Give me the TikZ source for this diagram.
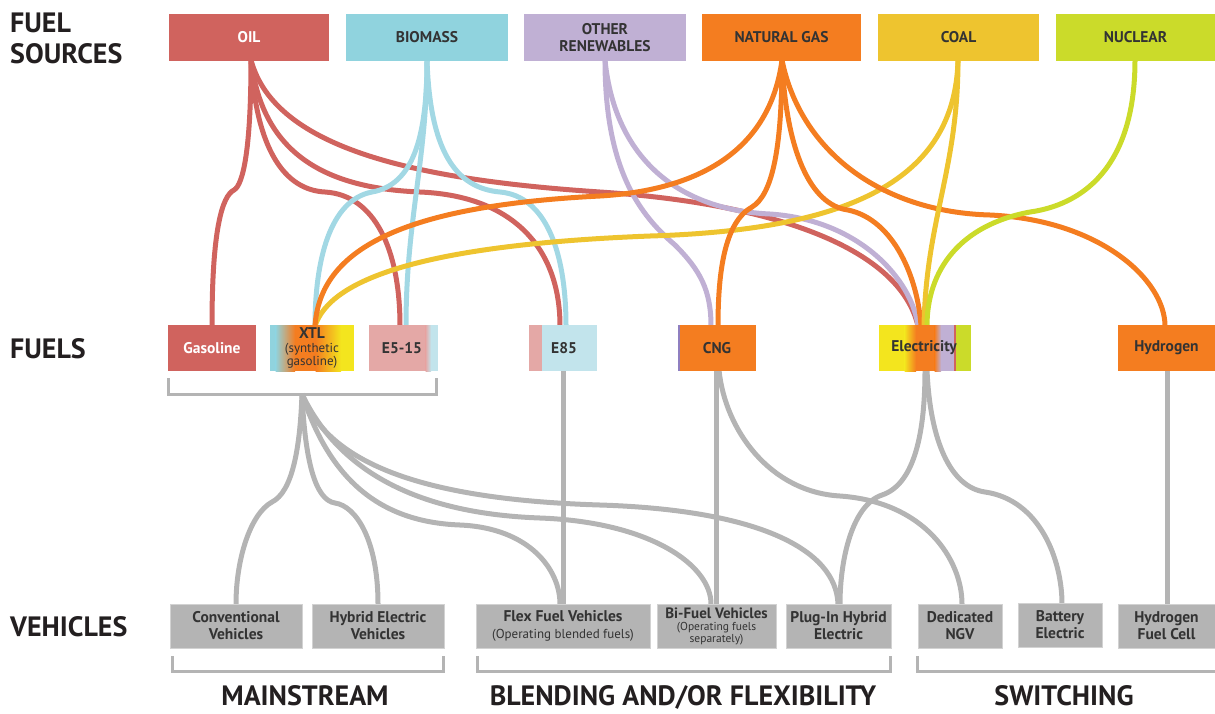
\documentclass[tikz,border=0pt]{standalone}
\usepackage{fontspec}
\setmainfont{PT Sans}
\definecolor{oilC}{HTML}{D0635E}
\definecolor{bioC}{HTML}{90D3DE}
\definecolor{bioL}{HTML}{A2D8E4}
\definecolor{renC}{HTML}{C0B0D4}
\definecolor{ngC}{HTML}{F47D20}
\definecolor{coalC}{HTML}{EEC42F}
\definecolor{nucC}{HTML}{CBDB2A}
\definecolor{grayC}{HTML}{B4B4B4}
\definecolor{txtC}{HTML}{333333}
\definecolor{labC}{HTML}{231F20}
\definecolor{pinkC}{HTML}{E4A8A6}
\definecolor{lcyanC}{HTML}{C2E4EC}
\definecolor{ylwC}{HTML}{F3E51E}
\definecolor{purC}{HTML}{8F7FC0}
\begin{document}
\begin{tikzpicture}[x=1pt,y=-1pt,
  srcbox/.style={minimum height=47pt, inner sep=0pt, align=center, text=txtC,
    font=\fontsize{15.5}{16.5}\selectfont\bfseries},
  fuelbox/.style={minimum height=46pt, inner sep=0pt, align=center, text=txtC,
    font=\fontsize{15.5}{15}\selectfont\bfseries},
  vehbox/.style={fill=grayC, draw=grayC!60, line width=0.6pt, minimum height=44pt, inner sep=0pt, align=center, text=txtC,
    font=\fontsize{15.5}{17}\selectfont\bfseries},
  leftlab/.style={anchor=west, inner sep=0pt, align=left, text=labC,
    font=\fontsize{28}{31}\selectfont\bfseries},
  grouplab/.style={anchor=base, inner sep=0pt, text=labC, font=\fontsize{28}{30}\selectfont\bfseries},
  flow/.style={line width=5pt},
  oilL/.style={flow, draw=oilC},
  bioLn/.style={flow, draw=bioL},
  renL/.style={flow, draw=renC},
  ngL/.style={flow, draw=ngC},
  coalL/.style={flow, draw=coalC},
  nucL/.style={flow, draw=nucC},
  grayL/.style={line width=5pt, draw=grayC},
  brk/.style={line width=3pt, draw=grayC}
]
\useasboundingbox (0,0) rectangle (1215,713);

% ---------- stem / anchor coordinates ----------
\coordinate (oilS) at (251,60);
\coordinate (bioS) at (427,60);
\coordinate (renS) at (605,60);
\coordinate (ngS) at (782,60);
\coordinate (coalS) at (958,60);
\coordinate (nucS) at (1135,60);
\coordinate (gasT) at (212,326);
\coordinate (xtlT) at (315,326);
\coordinate (e515a) at (400,326);
\coordinate (e515b) at (406,326);
\coordinate (e85a) at (560,326);
\coordinate (e85b) at (566,326);
\coordinate (cngA) at (711,326);
\coordinate (cngB) at (718,326);
\coordinate (elA) at (918,326);
\coordinate (elB) at (921,326);
\coordinate (elC) at (924,326);
\coordinate (elD) at (927,326);
\coordinate (hydT) at (1165,326);
\coordinate (brS) at (302,394);
\coordinate (e85D) at (563,370);
\coordinate (cngD) at (716,370);
\coordinate (cngD2) at (719,370);
\coordinate (elD1) at (925,370);
\coordinate (elD2) at (927,370);
\coordinate (hydD) at (1167,370);
\coordinate (convT) at (236,604);
\coordinate (hybT) at (378,604);
\coordinate (flexT) at (560,604);
\coordinate (flexT2) at (563,604);
\coordinate (biT) at (711,604);
\coordinate (biT2) at (716,604);
\coordinate (plugT) at (838,604);
\coordinate (plugT2) at (840,604);
\coordinate (ngvT) at (962,604);
\coordinate (batT) at (1062,604);
\coordinate (hfcT) at (1167,604);

% ---------- source -> fuel flows ----------
\draw[oilL] (oilS) .. controls (251,150) and (243,185) .. (234,190) .. controls (222,196) and (212,230) .. (gasT);
\draw[oilL] (oilS) .. controls (256,150) and (285,190) .. (325,192) .. controls (375,195) and (400,250) .. (e515a);
\draw[oilL] (oilS) .. controls (262,150) and (320,188) .. (420,192) .. controls (515,196) and (560,250) .. (e85a);
\draw[oilL] (oilS) .. controls (275,150) and (420,180) .. (600,192) .. controls (780,204) and (900,250) .. (elA);

\draw[bioLn] (bioS) .. controls (427,140) and (412,185) .. (372,192) .. controls (330,200) and (315,260) .. (xtlT);
\draw[bioLn] (bioS) .. controls (427,160) and (406,220) .. (e515b);
\draw[bioLn] (bioS) .. controls (430,150) and (455,188) .. (500,192) .. controls (545,196) and (566,250) .. (e85b);

\draw[renL] (renS) .. controls (605,170) and (640,215) .. (675,245) .. controls (700,270) and (711,290) .. (cngA);
\draw[renL] (renS) .. controls (615,160) and (680,210) .. (770,214) .. controls (860,220) and (912,280) .. (elA);

\draw[coalL] (coalS) .. controls (955,180) and (850,230) .. (650,236) .. controls (420,245) and (330,280) .. (xtlT);
\draw[ngL] (ngS) .. controls (770,150) and (700,190) .. (600,196) .. controls (400,206) and (320,250) .. (xtlT);
\draw[ngL] (ngS) .. controls (782,150) and (772,195) .. (752,207) .. controls (725,222) and (718,270) .. (cngB);
\draw[ngL] (ngS) .. controls (786,150) and (810,205) .. (848,210) .. controls (895,220) and (918,280) .. (elB);
\draw[ngL] (ngS) .. controls (800,150) and (880,212) .. (990,215) .. controls (1100,220) and (1165,280) .. (hydT);
\draw[coalL] (coalS) .. controls (958,170) and (926,220) .. (elC);
\draw[nucL] (nucS) .. controls (1135,170) and (1080,205) .. (1030,212) .. controls (960,225) and (927,270) .. (elD);

% ---------- fuel -> vehicle flows ----------
\draw[grayL] (brS) .. controls (300,450) and (292,492) .. (272,502) .. controls (250,514) and (236,560) .. (convT);
\draw[grayL] (brS) .. controls (305,460) and (315,500) .. (335,503) .. controls (356,506) and (378,540) .. (hybT);
\draw[grayL] (brS) .. controls (330,480) and (380,522) .. (460,525) .. controls (530,528) and (560,570) .. (flexT);
\draw[grayL] (brS) .. controls (350,495) and (460,515) .. (540,518) .. controls (650,522) and (711,565) .. (biT);
\draw[grayL] (brS) .. controls (330,470) and (440,500) .. (600,505) .. controls (760,510) and (836,550) .. (plugT);
\draw[grayL] (e85D) -- (flexT2);
\draw[grayL] (cngD) -- (biT2);
\draw[grayL] (cngD2) .. controls (725,430) and (770,492) .. (840,496) .. controls (925,502) and (962,560) .. (ngvT);
\draw[grayL] (elD1) .. controls (925,440) and (912,485) .. (882,495) .. controls (852,505) and (840,560) .. (plugT2);
\draw[grayL] (elD2) .. controls (930,440) and (950,487) .. (985,492) .. controls (1040,500) and (1062,560) .. (batT);
\draw[grayL] (hydD) -- (hfcT);

% ---------- brackets ----------
\draw[brk] (168,378) -- (168,394) -- (436,394) -- (436,378);
\draw[brk] (172,656) -- (172,671) -- (443,671) -- (443,656);
\draw[brk] (477,656) -- (477,671) -- (890,671) -- (890,656);
\draw[brk] (917,656) -- (917,671) -- (1216,671);

% ---------- source boxes ----------
\node[srcbox, fill=oilC, minimum width=160pt, text=white] (oil) at (249,37.5) {OIL};
\node[srcbox, fill=bioC, minimum width=162pt] (bio) at (427,37.5) {BIOMASS};
\node[srcbox, fill=renC, minimum width=162pt] (ren) at (605,37.5) {OTHER\\RENEWABLES};
\node[srcbox, fill=ngC, minimum width=159pt] (ng) at (781.5,37.5) {NATURAL GAS};
\node[srcbox, fill=coalC, minimum width=161pt] (coal) at (958.5,37.5) {COAL};
\node[srcbox, fill=nucC, minimum width=159pt] (nuc) at (1135.5,37.5) {NUCLEAR};

% ---------- fuel boxes ----------
% XTL gradient
\fill[bioC] (270,325) rectangle (276,371);
\fill[left color=bioC, right color=ngC] (275.5,325) rectangle (295,371);
\fill[ngC] (294.5,325) rectangle (316,371);
\fill[left color=ngC, right color=ylwC] (315.5,325) rectangle (341,371);
\fill[ylwC] (340.5,325) rectangle (354,371);
% E5-15
\fill[pinkC] (369,325) rectangle (426,371);
\fill[left color=pinkC, right color=lcyanC] (425.5,325) rectangle (431,371);
\fill[lcyanC] (430.5,325) rectangle (438,371);
% E85
\fill[pinkC] (529,325) rectangle (542,371);
\fill[lcyanC] (541.5,325) rectangle (597,371);
% CNG
\fill[ngC] (678,325) rectangle (756,371);
\fill[purC] (678,325) rectangle (680,371);
% Electricity
\fill[ylwC] (879,325) rectangle (905,371);
\fill[left color=ylwC, right color=ngC] (904.5,325) rectangle (916,371);
\fill[ngC] (915.5,325) rectangle (935,371);
\fill[left color=ngC, right color=renC] (934.5,325) rectangle (941,371);
\fill[renC] (940.5,325) rectangle (954,371);
\fill[oilC] (953.5,325) rectangle (955.5,371);
\fill[nucC] (955.5,325) rectangle (971,371);

\node[fuelbox, fill=oilC, minimum width=88pt, text=white] (gas) at (212,348) {Gasoline};
\node[fuelbox, minimum width=84pt] (xtl) at (312,348) {XTL\\[-1.5pt]{\fontsize{13}{13}\selectfont\mdseries (synthetic}\\[-1.5pt]{\fontsize{13}{13}\selectfont\mdseries gasoline)}};
\node[fuelbox, minimum width=69pt] (e515) at (402,348) {E5-15};
\node[fuelbox, minimum width=60pt] (e85) at (564,348) {E85};
\node[fuelbox, minimum width=78pt] (cng) at (717,348) {CNG};
\node[fuelbox, minimum width=92pt] (elec) at (924,348) {Electricity};
\node[fuelbox, fill=ngC, minimum width=97pt] (hyd) at (1166.5,348) {Hydrogen};

% ---------- vehicle boxes ----------
\node[vehbox, minimum width=132pt] (conv) at (236,626) {Conventional\\Vehicles};
\node[vehbox, minimum width=132pt] (hyb) at (378,626) {Hybrid Electric\\Vehicles};
\node[vehbox, minimum width=174pt] (flex) at (563,626) {Flex Fuel Vehicles\\{\fontsize{13}{15}\selectfont\mdseries (Operating blended fuels)}};
\node[vehbox, minimum width=119pt, font=\fontsize{11.5}{12}\selectfont\mdseries] (bifuel) at (716.5,626) {{\fontsize{15}{12}\selectfont\bfseries Bi-Fuel Vehicles}\\(Operating fuels\\separately)};
\node[vehbox, minimum width=105pt] (plug) at (838.5,626) {Plug-In Hybrid\\Electric};
\node[vehbox, minimum width=84pt] (ngv) at (960,626) {Dedicated\\NGV};
\node[vehbox, minimum width=84pt] (bat) at (1060,625) {Battery\\Electric};
\node[vehbox, minimum width=97pt] (hfc) at (1166.5,626) {Hydrogen\\Fuel Cell};

% ---------- labels ----------
\node[leftlab] (lsrc) at (10,38) {FUEL\\SOURCES};
\node[leftlab] (lfuel) at (10,349) {FUELS};
\node[leftlab] (lveh) at (10,627) {VEHICLES};
\node[grouplab] (gmain) at (305,705) {MAINSTREAM};
\node[grouplab] (gblend) at (683,705) {BLENDING AND/OR FLEXIBILITY};
\node[grouplab] (gswitch) at (1064,705) {SWITCHING};
\end{tikzpicture}
\end{document}
